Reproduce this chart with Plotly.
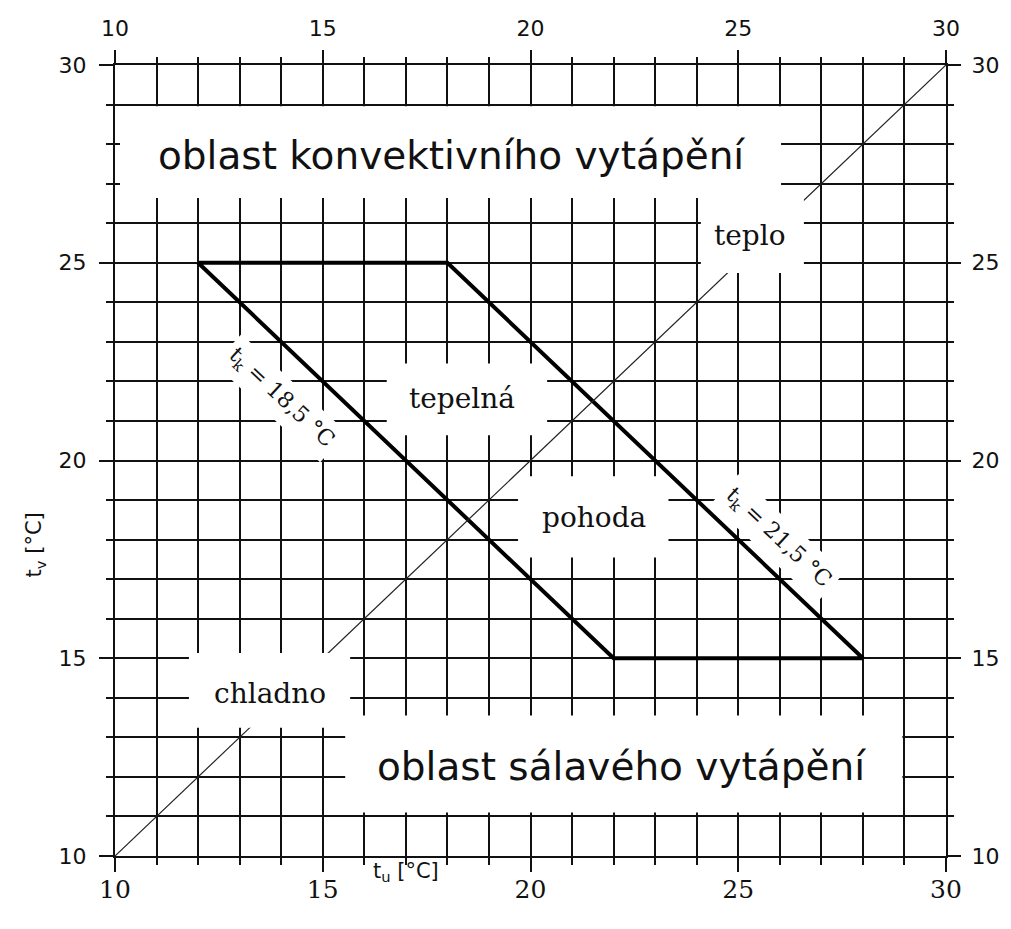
import plotly.graph_objects as go

AXIS_RANGE = [10, 30]

# comfort zone bounded by t_k = 18,5 / 21,5 °C and t_v = 15 / 25 °C
ZONE_TU = [12, 18, 28, 22, 12]
ZONE_TV = [25, 25, 15, 15, 25]

# t_u = t_v
DIAG_TU = [10, 30]
DIAG_TV = [10, 30]

REGION_TEXT = ["oblast konvektivního vytápění", "oblast sálavého vytápění"]
REGION_TU = [18.1, 22.2]
REGION_TV = [27.72, 12.26]

FEEL_TEXT = ["teplo", "tepelná", "pohoda", "chladno"]
FEEL_TU = [25.29, 18.35, 21.53, 13.73]
FEEL_TV = [25.7, 21.58, 18.55, 14.11]

TK_TEXT = ["t<sub>k</sub> = 18,5 °C", "t<sub>k</sub> = 21,5 °C"]
TK_TU = [14.0, 25.96]
TK_TV = [21.58, 18.04]

INK = "#111111"
SANS = "DejaVu Sans"
SERIF = "DejaVu Serif"


def axis_style(**extra):
    style = dict(
        range=AXIS_RANGE,
        tick0=10,
        dtick=5,
        ticks="outside",
        ticklen=14,
        tickwidth=2,
        tickcolor=INK,
        zeroline=False,
        minor=dict(dtick=1, tick0=10, ticks="outside", ticklen=7, tickwidth=2, tickcolor=INK),
    )
    style.update(extra)
    return style


fig = go.Figure()

fig.add_trace(
    go.Scatter(
        x=DIAG_TU, y=DIAG_TV, mode="lines",
        line={"color": "#222222", "width": 1.2},
        xaxis="x2", yaxis="y2", hoverinfo="skip",
    )
)
fig.add_trace(
    go.Scatter(
        x=ZONE_TU, y=ZONE_TV, mode="lines",
        line={"color": "black", "width": 4},
        hoverinfo="skip",
    )
)

# white boxes behind the labels, they cut the grid like in the original drawing
masks = [
    (10.12, 26.03, 26.64, 28.96),
    (24.10, 26.58, 24.74, 26.70),
    (16.54, 20.40, 20.64, 22.45),
    (19.70, 23.32, 17.55, 19.60),
    (11.78, 15.66, 13.24, 15.13),
    (15.54, 28.95, 11.10, 13.55),
]
for x0, x1, y0, y1 in masks:
    fig.add_shape(
        type="rect", xref="x", yref="y", x0=x0, x1=x1, y0=y0, y1=y1,
        fillcolor="white", line={"width": 0}, layer="above",
    )

for text, tu, tv in zip(REGION_TEXT, REGION_TU, REGION_TV):
    fig.add_annotation(
        x=tu, y=tv, text=text, showarrow=False,
        font={"family": SANS, "size": 39, "color": INK},
    )

for text, tu, tv in zip(FEEL_TEXT, FEEL_TU, FEEL_TV):
    fig.add_annotation(
        x=tu, y=tv, text=text, showarrow=False,
        font={"family": SERIF, "size": 28, "color": INK},
    )

for text, tu, tv in zip(TK_TEXT, TK_TU, TK_TV):
    fig.add_annotation(
        x=tu, y=tv, text=text, showarrow=False, textangle=43,
        bgcolor="white", borderpad=5,
        font={"family": SERIF, "size": 22, "color": INK},
    )

fig.add_annotation(
    x=17.0, y=-0.02, xref="x", yref="paper", yanchor="middle",
    text="t<sub>u</sub> [°C]", showarrow=False,
    font={"family": SANS, "size": 21, "color": INK},
)
fig.add_annotation(
    x=-0.114, y=17.86, xref="paper", yref="y",
    text="t<sub>v</sub> [°C]", showarrow=False, textangle=-90,
    font={"family": SANS, "size": 21, "color": INK},
)

fig.update_layout(
    width=1011,
    height=929,
    margin={"l": 115, "r": 55, "t": 65, "b": 73},
    paper_bgcolor="white",
    plot_bgcolor="white",
    showlegend=False,
    xaxis=axis_style(
        showgrid=True, gridcolor=INK, gridwidth=2,
        showline=True, linecolor=INK, linewidth=2, mirror=True,
        minor=dict(dtick=1, tick0=10, ticks="outside", ticklen=7, tickwidth=2,
                   tickcolor=INK, showgrid=True, gridcolor=INK, gridwidth=2),
        tickfont={"family": SERIF, "size": 25, "color": INK},
        ticklabelstandoff=-4,
    ),
    yaxis=axis_style(
        showgrid=True, gridcolor=INK, gridwidth=2,
        showline=True, linecolor=INK, linewidth=2, mirror=True,
        minor=dict(dtick=1, tick0=10, ticks="outside", ticklen=7, tickwidth=2,
                   tickcolor=INK, showgrid=True, gridcolor=INK, gridwidth=2),
        tickfont={"family": SANS, "size": 22, "color": INK},
        ticklabelstandoff=8,
    ),
    xaxis2=axis_style(
        overlaying="x", side="top", showgrid=False,
        tickfont={"family": SANS, "size": 22, "color": INK},
        ticklabelstandoff=5,
    ),
    yaxis2=axis_style(
        overlaying="y", side="right", showgrid=False,
        tickfont={"family": SANS, "size": 22, "color": INK},
        ticklabelstandoff=6,
    ),
)

fig.write_html(
    "out.html",
    config={"displayModeBar": False},
    post_script="document.body.style.margin='0px';",
)
